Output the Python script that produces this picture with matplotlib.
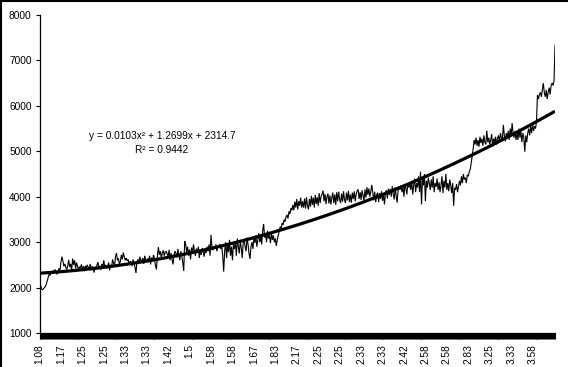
import numpy as np
import matplotlib
matplotlib.use("Agg")
import matplotlib.pyplot as plt
from matplotlib.lines import Line2D

plt.rcParams['font.family'] = ['Liberation Sans', 'DejaVu Sans']

# ---- data ----
values = [
    2130, 2060, 1980, 1950, 1970, 2000, 2020, 2080, 2150, 2230,
    2300, 2270, 2350, 2320, 2380, 2310, 2400, 2350, 2290, 2360,
    2420, 2380, 2560, 2680, 2590, 2470, 2520, 2440, 2400, 2480,
    2610, 2450, 2520, 2380, 2640, 2500, 2600, 2420, 2550, 2470,
    2380, 2460, 2430, 2510, 2400, 2470, 2360, 2480, 2420, 2500,
    2450, 2400, 2520, 2380, 2470, 2440, 2330, 2460, 2410, 2500,
    2560, 2420, 2480, 2390, 2520, 2460, 2600, 2440, 2500, 2420,
    2480, 2550, 2380, 2500, 2450, 2620, 2540, 2470, 2680, 2760,
    2600, 2640, 2510, 2580, 2720, 2620, 2770, 2680, 2600, 2650,
    2590, 2620, 2500, 2580, 2560, 2470, 2620, 2530, 2450, 2320,
    2560, 2620, 2540, 2680, 2600, 2580, 2650, 2520, 2700, 2610,
    2560, 2640, 2600, 2700, 2510, 2660, 2580, 2720, 2640, 2480,
    2400, 2700, 2890, 2720, 2800, 2650, 2760, 2820, 2700, 2780,
    2800, 2740, 2690, 2830, 2600, 2760, 2620, 2510, 2700, 2800,
    2760, 2660, 2850, 2720, 2600, 2800, 2700, 2560, 2365, 3026,
    2950, 2780, 2900, 2700, 2840, 2620, 2880, 2760, 2950, 2800,
    2700, 2860, 2760, 2900, 2650, 2820, 2720, 2870, 2780, 2680,
    2850, 2760, 2900, 2800, 2950, 2700, 3160, 2880, 2820, 2900,
    2860, 2950, 2800, 2900, 2880, 2960, 2850, 2920, 2700, 2350,
    2800, 3000, 2650, 2950, 2780, 3050, 2700, 2900, 2600, 2950,
    2850, 3000, 2700, 3080, 2900, 2750, 3020, 2880, 2650, 2980,
    3050, 2900, 2800, 3100, 2950, 2750, 2630, 2900, 3000, 2850,
    3100, 2980, 3150, 2900, 3050, 3200, 3000, 3120, 2950, 3250,
    3400, 3100, 3180, 3000, 3250, 3080, 3150, 2980, 3200, 3050,
    3150, 3000, 3080, 2916, 3050, 3150, 3250, 3340, 3300, 3420,
    3380, 3500, 3450, 3560, 3600, 3520, 3680, 3620, 3750, 3700,
    3820, 3700, 3890, 3760, 3950, 3720, 3900, 3800, 3980, 3760,
    3900, 3760, 3960, 3740, 3990, 3800, 3720, 3950, 3780, 4020,
    3820, 3980, 3760, 4040, 3840, 3990, 3800, 4080, 3860, 4010,
    4060, 4134, 3900, 4060, 3840, 4000, 4070, 3850, 4030, 3830,
    3980, 4090, 3860, 4050, 3820, 4100, 3900, 4110, 3940, 3860,
    4070, 3890, 4120, 3930, 3860, 4090, 3920, 4130, 3880, 4050,
    3870, 4090, 3950, 4120, 3900, 4060, 4130, 4160, 3950, 4100,
    3930, 4140, 4020, 3910, 4160, 3980, 4210, 4040, 4180, 4000,
    4120, 4260, 4080, 3920, 4110, 3880, 4040, 4090, 3880, 4080,
    3950, 4120, 3910, 4060, 3830, 4100, 4140, 3960, 4180, 4040,
    4170, 4000, 4230, 4060, 3940, 4210, 4020, 3870, 4150, 4230,
    4150, 4250, 4100, 4220, 4000, 4280, 4180, 4050, 4300, 4200,
    4280, 4150, 4350, 4050, 4250, 4400, 4100, 4300, 4200, 4450,
    4100, 4550, 3830, 4400, 4250, 4500, 3900, 4350, 4200, 4420,
    4300, 4150, 4380, 4200, 4450, 4100, 4300, 4220, 4400, 4150,
    4320, 4100, 4250, 4450, 4080, 4350, 4200, 4500, 4150, 4300,
    4120, 4380, 4250, 4080, 4300, 3800, 4200, 4150, 4280, 4100,
    4220, 4350, 4250, 4450, 4300, 4500, 4380, 4420, 4300, 4480,
    4450, 4550, 4600, 4740, 4900, 5050, 5250, 5150, 5300, 5120,
    5250, 5100, 5320, 5180, 5280, 5120, 5350, 5200, 5150, 5456,
    5200, 5300, 5150, 5250, 5380, 5100, 5280, 5200, 5320, 5150,
    5280, 5350, 5200, 5400, 5300, 5250, 5580, 5350, 5220, 5400,
    5300, 5450, 5250, 5500, 5350, 5620, 5400, 5300, 5450, 5250,
    5400, 5250, 5500, 5300, 5450, 5200, 5400, 5300, 4990, 5350,
    5200, 5400, 5500, 5350, 5550, 5400, 5600, 5450, 5550, 5500,
    5650, 6240, 6150, 6250, 6300, 6200, 6350, 6500, 6300, 6200,
    6350, 6150, 6300, 6400, 6250, 6450, 6500, 6450, 6550, 7340,
]

tick_labels = ["1.08", "1.17", "1.25", "1.25", "1.33", "1.33", "1.42", "1.5",
               "1.58", "1.58", "1.67", "1.83", "2.17", "2.25", "2.25", "2.33",
               "2.33", "2.42", "2.58", "2.58", "2.83", "3.25", "3.33", "3.58"]
label_step = 22

trend_coeffs = [0.0103, 1.2699, 2314.7]
equation_text = "y = 0.0103x² + 1.2699x + 2314.7"
r2_text = "R² = 0.9442"

y_ticks = [1000, 2000, 3000, 4000, 5000, 6000, 7000, 8000]

# ---- figure ----
W, H = 568, 367
fig = plt.figure(figsize=(W / 100, H / 100), dpi=100)
fig.patch.set_facecolor("white")

left, right, top, bottom = 39.5, 555, 15, 333
ax = fig.add_axes([left / W, 1 - bottom / H, (right - left) / W, (bottom - top) / H])

n = len(values)
idx = np.arange(n)
ax.plot(idx, values, color="black", lw=0.8, zorder=2, solid_joinstyle="miter")

trend = np.polyval(trend_coeffs, idx + 1)
ax.plot(idx, trend, color="black", lw=2.3, zorder=3, solid_capstyle="butt")

ax.set_xlim(0, n - 1)
ax.set_ylim(1000, 8000)

for s in ["top", "right"]:
    ax.spines[s].set_visible(False)
ax.spines["left"].set_linewidth(0.9)
ax.spines["bottom"].set_linewidth(0.9)

ax.set_yticks(y_ticks)
ax.set_yticklabels([str(v) for v in y_ticks])
ax.tick_params(axis="y", direction="out", length=3.2, width=0.8, pad=2.5,
               labelsize=7.3, colors="black")

ax.set_xticks(np.arange(0, n, label_step)[:len(tick_labels)])
ax.set_xticklabels(tick_labels, rotation=90, fontsize=7.3)
ax.set_xticks(np.arange(0, n), minor=True)
ax.tick_params(axis="x", which="major", direction="out", length=4.5, width=0.8,
               pad=3.5)
ax.tick_params(axis="x", which="minor", direction="out", length=4.5, width=0.8)

fig.text(162 / W, 1 - 136 / H, equation_text, ha="center", va="center", fontsize=7.3)
fig.text(162 / W, 1 - 150 / H, r2_text, ha="center", va="center", fontsize=7.3)

# outer chart border (left and top edges visible)
fig.add_artist(Line2D([0.5 / W, 0.5 / W], [0, 1], color="black", lw=1.5,
                      transform=fig.transFigure))
fig.add_artist(Line2D([0, 1], [1 - 0.5 / H, 1 - 0.5 / H], color="black", lw=1.5,
                      transform=fig.transFigure))

fig.savefig("out.png", dpi=100, facecolor="white")
